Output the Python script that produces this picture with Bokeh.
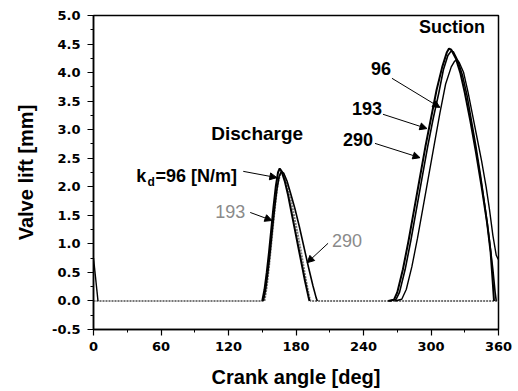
from bokeh.plotting import figure
from bokeh.models import Range1d, SingleIntervalTicker, PrintfTickFormatter, Label, Arrow, NormalHead
from bokeh.embed import file_html
from bokeh.resources import INLINE

# ---------------- data ----------------
x_ticks_interval = 60
y_ticks_interval = 0.5

# Discharge valve, k_d = 96
dis96_angle = [150, 152, 154, 156, 158, 160, 162, 164, 165.5, 167, 170, 173, 176, 179, 182, 185, 188, 191, 192]
dis96_lift = [0.0, 0.2, 0.5, 0.85, 1.25, 1.65, 2.0, 2.25, 2.32, 2.28, 2.1, 1.85, 1.55, 1.25, 0.95, 0.65, 0.35, 0.08, 0.0]

# Discharge valve, k_d = 193 (also carries the zero baseline)
dis193_angle = [0, 152, 154, 156, 158, 160, 162, 164, 166, 168, 170, 173, 176, 179, 182, 185, 188, 190, 192, 193, 360]
dis193_lift = [0.0, 0.0, 0.25, 0.6, 1.0, 1.4, 1.78, 2.08, 2.22, 2.25, 2.18, 1.98, 1.72, 1.42, 1.12, 0.8, 0.45, 0.25, 0.05, 0.0, 0.0]

# Discharge valve, k_d = 290
dis290_angle = [151, 153, 155, 157, 159, 161, 163, 165, 167, 169, 172, 175, 179, 183, 187, 191, 195, 198, 199]
dis290_lift = [0.0, 0.2, 0.5, 0.85, 1.25, 1.62, 1.95, 2.18, 2.27, 2.24, 2.1, 1.9, 1.62, 1.3, 0.95, 0.6, 0.27, 0.05, 0.0]

# Suction valve, k = 96 (opens later, still open at 360 -> wraps to 0 deg)
suc96_angle = [268, 274, 278, 283, 288, 293, 298, 303, 308, 313, 318, 321, 323, 325, 329, 333, 337, 341, 345, 349, 352, 355, 358, 360, 360]
suc96_lift = [0.0, 0.03, 0.2, 0.6, 1.1, 1.65, 2.2, 2.75, 3.3, 3.8, 4.1, 4.2, 4.22, 4.18, 4.0, 3.65, 3.25, 2.85, 2.45, 2.0, 1.6, 1.15, 0.8, 0.72, 0.0]
suc96_wrap_angle = [0, 4]
suc96_wrap_lift = [0.75, 0.0]

# Suction valve, k = 193
suc193_angle = [262, 267, 270, 275, 280, 285, 290, 295, 300, 305, 310, 314, 316, 318, 322, 326, 330, 335, 340, 345, 350, 353, 355, 356]
suc193_lift = [0.0, 0.02, 0.15, 0.55, 1.05, 1.6, 2.15, 2.7, 3.2, 3.7, 4.1, 4.35, 4.42, 4.4, 4.25, 4.0, 3.65, 3.15, 2.6, 2.0, 1.35, 0.85, 0.3, 0.0]

# Suction valve, k = 290
suc290_angle = [263, 269, 272, 277, 282, 287, 292, 297, 302, 307, 311, 315, 318, 320, 324, 328, 332, 336, 340, 344, 348, 352, 355, 357, 358]
suc290_lift = [0.0, 0.03, 0.15, 0.55, 1.05, 1.6, 2.15, 2.7, 3.2, 3.65, 4.05, 4.3, 4.38, 4.36, 4.2, 3.95, 3.6, 3.15, 2.7, 2.2, 1.65, 1.05, 0.55, 0.15, 0.0]

# ---------------- figure ----------------
p = figure(width=518, height=391, output_backend="svg", toolbar_location=None,
           x_range=Range1d(0, 360), y_range=Range1d(-0.5, 5.0),
           min_border_left=93, min_border_right=20, min_border_top=15, min_border_bottom=62)
p.background_fill_color = "white"
p.border_fill_color = "white"
p.xgrid.visible = False
p.ygrid.visible = False
p.outline_line_color = "black"
p.outline_line_width = 1.5

p.xaxis.ticker = SingleIntervalTicker(interval=x_ticks_interval, num_minor_ticks=2)
p.yaxis.ticker = SingleIntervalTicker(interval=y_ticks_interval, num_minor_ticks=2)
p.yaxis.formatter = PrintfTickFormatter(format="%.1f")

for ax in (p.xaxis, p.yaxis):
    ax.axis_line_color = "black"
    ax.axis_line_width = 1.5
    ax.major_tick_line_color = "black"
    ax.minor_tick_line_color = "black"
    ax.major_tick_line_width = 1.2
    ax.major_tick_in = 0
    ax.major_tick_out = 6
    ax.minor_tick_in = 0
    ax.minor_tick_out = 3
    ax.major_label_text_font = "DejaVu Sans"
    ax.major_label_text_font_style = "bold"
    ax.major_label_text_font_size = "13px"
    ax.major_label_text_color = "black"
    ax.axis_label_text_font = "Liberation Sans"
    ax.axis_label_text_font_style = "bold"
    ax.axis_label_text_font_size = "20px"
    ax.axis_label_text_color = "black"

p.xaxis.axis_label = "Crank angle [deg]"
p.yaxis.axis_label = "Valve lift [mm]"
p.yaxis.major_label_standoff = 7
p.xaxis.major_label_standoff = 6
p.yaxis.axis_label_standoff = 12
p.xaxis.axis_label_standoff = 12

# curves
p.line(dis193_angle, dis193_lift, line_color="#777777", line_width=2, line_dash="2 1")
p.line(dis96_angle, dis96_lift, line_color="black", line_width=2)
p.line(dis290_angle, dis290_lift, line_color="black", line_width=1.6)
p.line(suc193_angle, suc193_lift, line_color="black", line_width=2)
p.line(suc290_angle, suc290_lift, line_color="black", line_width=1.6)
p.line(suc96_angle, suc96_lift, line_color="black", line_width=1.4)
p.line(suc96_wrap_angle, suc96_wrap_lift, line_color="black", line_width=1.4)

# texts
def lab(x, y, t, size="18px", color="black", style="bold", align="center", baseline="middle"):
    p.add_layout(Label(x=x, y=y, text=t, text_font="Liberation Sans", text_font_size=size,
                       text_font_style=style, text_color=color, text_align=align, text_baseline=baseline))

lab(318.6, 4.79, "Suction")
lab(145.5, 2.93, "Discharge", size="19px")
lab(38.1, 2.18, "k", align="left", baseline="alphabetic")
lab(48.0, 2.08, "d", size="12px", align="left", baseline="alphabetic")
lab(55.0, 2.18, "=96 [N/m]", align="left", baseline="alphabetic")
lab(121.5, 1.56, "193", color="#8a8a8a", style="normal")
lab(225.4, 1.06, "290", color="#8a8a8a", style="normal")
lab(255.6, 4.07, "96")
lab(243.1, 3.37, "193")
lab(235.2, 2.83, "290")

def arr(x0, y0, x1, y1):
    p.add_layout(Arrow(end=NormalHead(size=7, fill_color="black", line_color="black"),
                       x_start=x0, y_start=y0, x_end=x1, y_end=y1,
                       line_color="black", line_width=1))

arr(133.1, 2.27, 163.0, 2.16)
arr(139.3, 1.55, 158.6, 1.41)
arr(208.5, 1.01, 189.9, 0.67)
arr(265.3, 3.90, 307.9, 3.39)
arr(257.3, 3.27, 296.4, 3.02)
arr(250.2, 2.76, 290.2, 2.51)

open("out.html", "w").write(file_html(p, INLINE))
